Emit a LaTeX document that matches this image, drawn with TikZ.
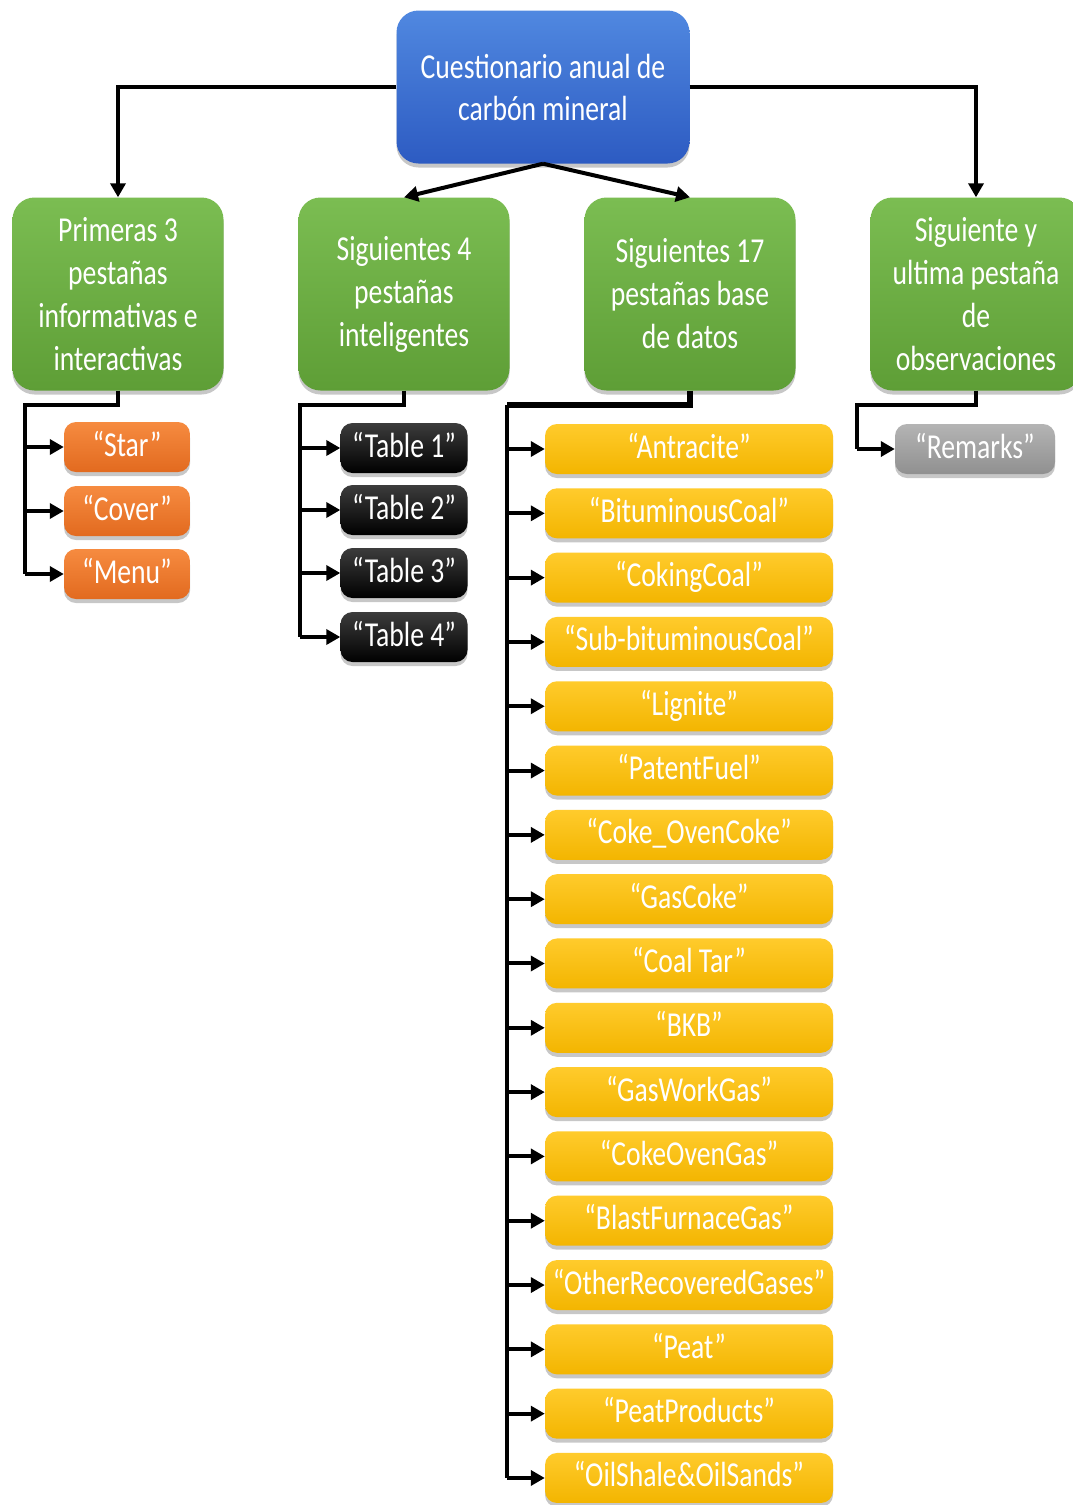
\documentclass[tikz,border=0pt]{standalone}
\usepackage{fontspec}
\setmainfont{Carlito}[FakeStretch=0.79]
\usetikzlibrary{shadows,arrows.meta}

\definecolor{blueTop}{HTML}{5088E0}
\definecolor{blueBot}{HTML}{2D5BC2}
\definecolor{greenTop}{HTML}{7BBD52}
\definecolor{greenBot}{HTML}{5E9E36}
\definecolor{orangeTop}{HTML}{F68B40}
\definecolor{orangeBot}{HTML}{E26A1F}
\definecolor{yellowTop}{HTML}{FFCB2C}
\definecolor{yellowBot}{HTML}{F3B500}
\definecolor{grayTop}{HTML}{B4B4B4}
\definecolor{grayBot}{HTML}{909090}
\definecolor{darkTop}{HTML}{3C3C3C}
\definecolor{darkBot}{HTML}{000000}

\begin{document}
\begin{tikzpicture}[x=1pt,y=-1pt,
  box/.style={rounded corners=12pt, text=white, align=center, inner sep=0pt,
    drop shadow={shadow xshift=0pt, shadow yshift=-4pt, opacity=0.22, fill=black}},
  rootbox/.style={box, rounded corners=22pt, minimum width=293pt, minimum height=153pt,
    top color=blueTop, bottom color=blueBot, font=\fontsize{35}{42}\selectfont},
  groupbox/.style={box, rounded corners=22pt, minimum width=211pt, minimum height=193pt,
    top color=greenTop, bottom color=greenBot, font=\fontsize{35}{43}\selectfont},
  leaf/.style={box, minimum height=50pt, text height=24pt, text depth=6pt,
    font=\fontsize{35}{38}\selectfont},
  infobox/.style={leaf, minimum width=126pt, top color=orangeTop, bottom color=orangeBot},
  tablebox/.style={leaf, minimum width=127pt, top color=darkTop, bottom color=darkBot},
  databox/.style={leaf, minimum width=288pt, top color=yellowTop, bottom color=yellowBot},
  notebox/.style={leaf, minimum width=160pt, top color=grayTop, bottom color=grayBot},
  line/.style={line width=4pt, miter limit=4},
  conn/.style={line, -{Triangle[length=14pt,width=15pt]}},
]
\fill[white] (0,0) rectangle (1073,1505);
\useasboundingbox (0,0) rectangle (1073,1505);

% top level
\node[rootbox] (root) at (543,87) {Cuestionario anual de\\carbón mineral};

% second level
\node[groupbox] (g1) at (118,294) {Primeras 3\\pestañas\\informativas e\\interactivas};
\node[groupbox] (g2) at (404,294) {Siguientes 4\\pestañas\\inteligentes};
\node[groupbox] (g3) at (690,294) {Siguientes 17\\pestañas base\\de datos};
\node[groupbox] (g4) at (976,294) {Siguiente y\\ultima pestaña\\de\\observaciones};

\draw[conn] (root.west) -| (g1.north);
\draw[conn] (root.east) -| (g4.north);
\draw[conn] (root.south) -- (g2.north);
\draw[conn] (root.south) -- (g3.north);

% informative tabs
\node[infobox] (s1) at (127,447) {“Star”};
\node[infobox] (s2) at (127,511) {“Cover”};
\node[infobox] (s3) at (127,574) {“Menu”};
\coordinate (k1) at (25,405);
\draw[line] (g1.south) |- (k1) -- (k1 |- s3.west);
\foreach \n in {s1,s2,s3} \draw[conn] (k1 |- \n.west) -- (\n.west);

% smart tabs
\node[tablebox] (t1) at (404,448) {“Table 1”};
\node[tablebox] (t2) at (404,510) {“Table 2”};
\node[tablebox] (t3) at (404,573) {“Table 3”};
\node[tablebox] (t4) at (404,637) {“Table 4”};
\coordinate (k2) at (300,405);
\draw[line] (g2.south) |- (k2) -- (k2 |- t4.west);
\foreach \n in {t1,t2,t3,t4} \draw[conn] (k2 |- \n.west) -- (\n.west);

% database tabs
\foreach [count=\i from 0] \t in {Antracite,BituminousCoal,CokingCoal,Sub-bituminousCoal,Lignite,PatentFuel,Coke\_OvenCoke,GasCoke,Coal Tar,BKB,GasWorkGas,CokeOvenGas,BlastFurnaceGas,OtherRecoveredGases,Peat,PeatProducts,OilShale\&OilSands}
  \node[databox] (d\i) at (689,449+64.31*\i) {“\t”};
\coordinate (k3) at (507,405);
\draw[line, line width=6pt] (g3.south) |- (k3);
\draw[line] (k3) -- (k3 |- d16.west);
\foreach \i in {0,...,16} \draw[conn] (k3 |- d\i.west) -- (d\i.west);

% remarks tab
\node[notebox] (r1) at (975,449) {“Remarks”};
\coordinate (k4) at (857,405);
\draw[line] (g4.south) |- (k4) -- (k4 |- r1.west);
\draw[conn] (k4 |- r1.west) -- (r1.west);
\end{tikzpicture}
\end{document}
